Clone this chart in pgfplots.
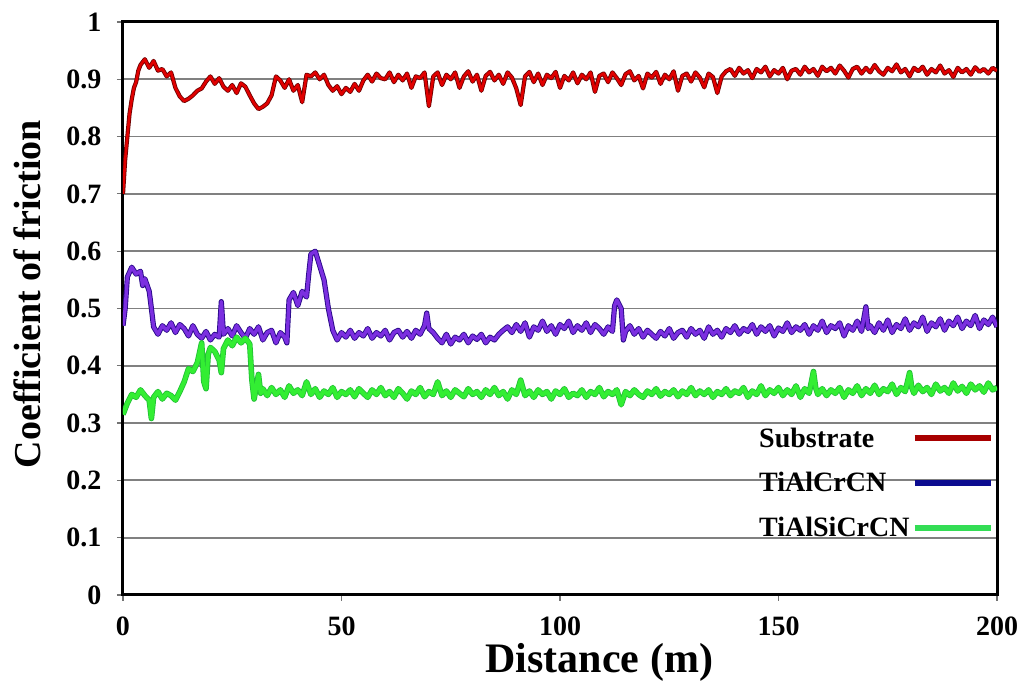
\documentclass[border=0pt]{standalone}
\usepackage{fontspec}
\setmainfont{Liberation Serif}
\usepackage{pgfplots}
\usepackage{pgfplotstable}
\pgfplotsset{compat=1.18}

\definecolor{subfill}{HTML}{E00000}
\definecolor{subedge}{HTML}{6A0000}
\definecolor{subleg}{HTML}{A80000}
\definecolor{tafill}{HTML}{7B2FE0}
\definecolor{taedge}{HTML}{2A0A8A}
\definecolor{taleg}{HTML}{0C0C90}
\definecolor{tsfill}{HTML}{33EE33}
\definecolor{tsedge}{HTML}{22C035}
\definecolor{tsleg}{HTML}{33DD55}

\pgfplotstableread{
x y
0 0.700
0.5 0.760
1 0.800
1.5 0.840
2 0.865
2.5 0.885
3 0.895
3.5 0.915
4 0.925
5 0.935
6 0.920
7 0.932
8 0.915
9 0.918
10 0.905
11 0.912
12 0.885
13 0.870
14 0.862
15 0.866
16 0.872
17 0.880
18 0.884
19 0.896
20 0.905
21 0.892
22 0.902
23 0.887
24 0.880
25 0.890
26 0.876
27 0.893
28 0.887
29 0.872
30 0.858
31 0.848
32 0.852
33 0.858
34 0.872
35 0.905
36 0.898
37 0.885
38 0.900
39 0.880
40 0.890
41 0.860
42 0.908
43 0.905
44 0.912
45 0.900
46 0.908
47 0.890
48 0.880
49 0.888
50 0.874
51 0.885
52 0.878
53 0.892
54 0.880
55 0.898
56 0.908
57 0.896
58 0.910
59 0.902
60 0.900
61 0.912
62 0.895
63 0.908
64 0.898
65 0.910
66 0.885
67 0.905
68 0.902
69 0.912
70 0.853
71 0.905
72 0.912
73 0.890
74 0.908
75 0.900
76 0.912
77 0.885
78 0.905
79 0.914
80 0.896
81 0.908
82 0.880
83 0.906
84 0.913
85 0.898
86 0.908
87 0.892
88 0.912
89 0.903
90 0.884
91 0.855
92 0.905
93 0.913
94 0.895
95 0.910
96 0.890
97 0.908
98 0.902
99 0.913
100 0.885
101 0.906
102 0.898
103 0.912
104 0.893
105 0.908
106 0.900
107 0.912
108 0.878
109 0.906
110 0.910
111 0.895
112 0.912
113 0.902
114 0.890
115 0.909
116 0.914
117 0.898
118 0.906
119 0.884
120 0.910
121 0.903
122 0.913
123 0.892
124 0.908
125 0.900
126 0.914
127 0.880
128 0.906
129 0.910
130 0.896
131 0.912
132 0.903
133 0.886
134 0.910
135 0.904
136 0.876
137 0.905
138 0.914
139 0.918
140 0.906
141 0.920
142 0.910
143 0.916
144 0.902
145 0.918
146 0.912
147 0.922
148 0.905
149 0.916
150 0.910
151 0.920
152 0.900
153 0.915
154 0.918
155 0.908
156 0.922
157 0.912
158 0.918
159 0.906
160 0.922
161 0.914
162 0.920
163 0.910
164 0.924
165 0.915
166 0.903
167 0.918
168 0.922
169 0.910
170 0.920
171 0.912
172 0.925
173 0.914
174 0.908
175 0.920
176 0.914
177 0.926
178 0.912
179 0.918
180 0.905
181 0.920
182 0.914
183 0.922
184 0.908
185 0.918
186 0.912
187 0.924
188 0.910
189 0.916
190 0.904
191 0.920
192 0.912
193 0.918
194 0.908
195 0.921
196 0.913
197 0.918
198 0.910
199 0.920
200 0.915
}\substrate

\pgfplotstableread{
x y
0 0.470
0.5 0.500
1 0.555
2 0.572
3 0.560
4 0.565
4.5 0.540
5 0.552
6 0.530
6.5 0.500
7 0.468
8 0.455
9 0.470
10 0.462
11 0.475
12 0.458
13 0.472
14 0.465
15 0.452
16 0.470
17 0.455
18 0.448
19 0.460
20 0.445
21 0.455
22 0.450
22.5 0.512
23 0.455
24 0.465
25 0.452
26 0.470
27 0.458
28 0.448
29 0.465
30 0.455
31 0.468
32 0.445
33 0.458
34 0.462
35 0.440
36 0.458
37 0.450
37.5 0.440
38 0.515
39 0.528
40 0.505
41 0.530
42 0.520
42.5 0.560
43 0.595
44 0.600
45 0.575
46 0.550
46.5 0.525
47 0.500
48 0.462
49 0.445
50 0.458
51 0.450
52 0.462
53 0.448
54 0.458
55 0.452
56 0.465
57 0.448
58 0.458
59 0.452
60 0.462
61 0.445
62 0.458
63 0.462
64 0.450
65 0.460
66 0.448
67 0.462
68 0.455
69 0.470
69.5 0.492
70 0.465
71 0.458
72 0.448
73 0.440
74 0.455
75 0.438
76 0.450
77 0.445
78 0.455
79 0.440
80 0.452
81 0.446
82 0.455
83 0.440
84 0.450
85 0.445
86 0.455
87 0.462
88 0.468
89 0.458
90 0.472
91 0.460
92 0.475
93 0.450
94 0.468
95 0.462
96 0.478
97 0.460
98 0.470
99 0.455
100 0.472
101 0.465
102 0.478
103 0.458
104 0.470
105 0.462
106 0.475
107 0.458
108 0.472
109 0.465
110 0.455
111 0.468
112 0.460
112.5 0.505
113 0.515
114 0.500
114.5 0.445
115 0.460
116 0.470
117 0.455
118 0.465
119 0.450
120 0.462
121 0.455
122 0.448
123 0.460
124 0.452
125 0.465
126 0.448
127 0.458
128 0.462
129 0.450
130 0.465
131 0.455
132 0.462
133 0.448
134 0.468
135 0.455
136 0.462
137 0.450
138 0.465
139 0.458
140 0.470
141 0.455
142 0.465
143 0.460
144 0.472
145 0.455
146 0.468
147 0.460
148 0.470
149 0.452
150 0.466
151 0.460
152 0.475
153 0.458
154 0.468
155 0.462
156 0.472
157 0.455
158 0.470
159 0.462
160 0.478
161 0.458
162 0.470
163 0.465
164 0.475
165 0.452
166 0.470
167 0.462
168 0.478
169 0.460
170 0.503
170.5 0.465
171 0.470
172 0.458
173 0.475
174 0.462
175 0.480
176 0.458
177 0.472
178 0.465
179 0.482
180 0.462
181 0.475
182 0.468
183 0.485
184 0.460
185 0.475
186 0.468
187 0.482
188 0.462
189 0.478
190 0.470
191 0.485
192 0.465
193 0.478
194 0.470
195 0.488
196 0.465
197 0.480
198 0.472
199 0.485
200 0.468
}\tialcrcn

\pgfplotstableread{
x y
0 0.315
0.5 0.325
1 0.335
2 0.350
3 0.345
4 0.358
5 0.348
6 0.340
6.5 0.308
7 0.345
8 0.355
9 0.342
10 0.352
11 0.348
12 0.340
13 0.355
14 0.372
15 0.395
16 0.390
17 0.405
18 0.440
18.5 0.372
19 0.360
19.5 0.420
20 0.432
21 0.425
22 0.410
22.5 0.388
23 0.430
24 0.445
25 0.435
26 0.450
27 0.440
28 0.448
29 0.438
29.5 0.375
30 0.342
31 0.385
31.5 0.352
32 0.360
33 0.348
34 0.362
35 0.350
36 0.358
37 0.345
38 0.365
39 0.352
40 0.358
41 0.348
42 0.372
43 0.350
44 0.360
45 0.345
46 0.356
47 0.350
48 0.362
49 0.345
50 0.355
51 0.350
52 0.358
53 0.346
54 0.360
55 0.352
56 0.345
57 0.358
58 0.350
59 0.362
60 0.348
61 0.355
62 0.345
63 0.360
64 0.352
65 0.342
66 0.356
67 0.350
68 0.362
69 0.346
70 0.355
71 0.350
72 0.372
73 0.348
74 0.356
75 0.345
76 0.358
77 0.352
78 0.346
79 0.360
80 0.350
81 0.355
82 0.345
83 0.358
84 0.350
85 0.362
86 0.348
87 0.355
88 0.342
89 0.358
90 0.350
91 0.375
92 0.348
93 0.356
94 0.345
95 0.358
96 0.350
97 0.355
98 0.342
99 0.356
100 0.350
101 0.360
102 0.345
103 0.352
104 0.348
105 0.358
106 0.345
107 0.355
108 0.350
109 0.362
110 0.346
111 0.355
112 0.350
113 0.358
114 0.332
115 0.355
116 0.348
117 0.358
118 0.350
119 0.345
120 0.356
121 0.350
122 0.360
123 0.347
124 0.355
125 0.350
126 0.358
127 0.346
128 0.356
129 0.350
130 0.362
131 0.348
132 0.356
133 0.350
134 0.358
135 0.345
136 0.355
137 0.350
138 0.360
139 0.348
140 0.356
141 0.352
142 0.362
143 0.345
144 0.356
145 0.350
146 0.365
147 0.348
148 0.358
149 0.352
150 0.362
151 0.348
152 0.358
153 0.350
154 0.365
155 0.345
156 0.360
157 0.352
158 0.390
158.5 0.362
159 0.350
160 0.360
161 0.348
162 0.358
163 0.352
164 0.362
165 0.345
166 0.358
167 0.352
168 0.365
169 0.348
170 0.360
171 0.352
172 0.366
173 0.350
174 0.360
175 0.355
176 0.368
177 0.350
178 0.362
179 0.355
180 0.388
180.5 0.362
181 0.352
182 0.366
183 0.355
184 0.362
185 0.350
186 0.368
187 0.356
188 0.362
189 0.352
190 0.370
191 0.356
192 0.364
193 0.352
194 0.368
195 0.358
196 0.365
197 0.354
198 0.370
199 0.358
200 0.362
}\tialsicrcn

\begin{document}
\begin{tikzpicture}
\begin{axis}[
  at={(0pt,0pt)}, anchor=south west,
  scale only axis,
  width=874pt, height=573pt,
  xmin=0, xmax=200, ymin=0, ymax=1,
  xtick={0,50,100,150,200},
  ytick={0,0.1,0.2,0.3,0.4,0.5,0.6,0.7,0.8,0.9,1},
  yticklabels={0,0.1,0.2,0.3,0.4,0.5,0.6,0.7,0.8,0.9,1},
  xticklabels={0,50,100,150,200},
  ymajorgrids,
  major grid style={line width=1.8pt, color=black!50},
  axis line style={line width=3pt, black},
  tick align=outside,
  major tick length=6pt,
  tick style={line width=1.2pt, color=black!55},
  xtick pos=bottom, ytick pos=left,
  ticklabel style={font=\fontsize{28}{32}\selectfont\bfseries},
  xticklabel style={yshift=-12pt},
  yticklabel style={xshift=-12pt},
  xlabel={Distance (m)},
  ylabel={Coefficient of friction},
  xlabel style={font=\fontsize{42}{46}\selectfont\bfseries, at={(axis description cs:0.545,-0.117)}, anchor=center},
  ylabel style={font=\fontsize{38}{42}\selectfont\bfseries, at={(axis description cs:-0.109,0.525)}, anchor=center},
  legend plot pos=right,
  legend cell align=left,
  legend image code/.code={\draw (0pt,0pt) -- (76pt,0pt);},
  legend style={draw=none, fill=none, at={(axis description cs:0.7254,0.1955)}, anchor=west,
    font=\fontsize{28}{32}\selectfont\bfseries, row sep=20pt, inner sep=0pt},
]
\addplot[forget plot, color=subedge, line width=4.2pt, line join=round] table[x=x,y=y] {\substrate};
\addplot[forget plot, color=subfill, line width=2.6pt, line join=round] table[x=x,y=y] {\substrate};
\addplot[forget plot, color=taedge, line width=5.2pt, line join=round] table[x=x,y=y] {\tialcrcn};
\addplot[forget plot, color=tafill, line width=3.4pt, line join=round] table[x=x,y=y] {\tialcrcn};
\addplot[forget plot, color=tsedge, line width=5.6pt, line join=round] table[x=x,y=y] {\tialsicrcn};
\addplot[forget plot, color=tsfill, line width=4.0pt, line join=round] table[x=x,y=y] {\tialsicrcn};
\addlegendimage{line width=6pt, color=subleg}
\addlegendentry{Substrate}
\addlegendimage{line width=6pt, color=taleg}
\addlegendentry{TiAlCrCN}
\addlegendimage{line width=6pt, color=tsleg}
\addlegendentry{TiAlSiCrCN}
\end{axis}
\pgfresetboundingbox
\path[use as bounding box] (-123pt,-89pt) rectangle (897pt,595pt);
\end{tikzpicture}
\end{document}
